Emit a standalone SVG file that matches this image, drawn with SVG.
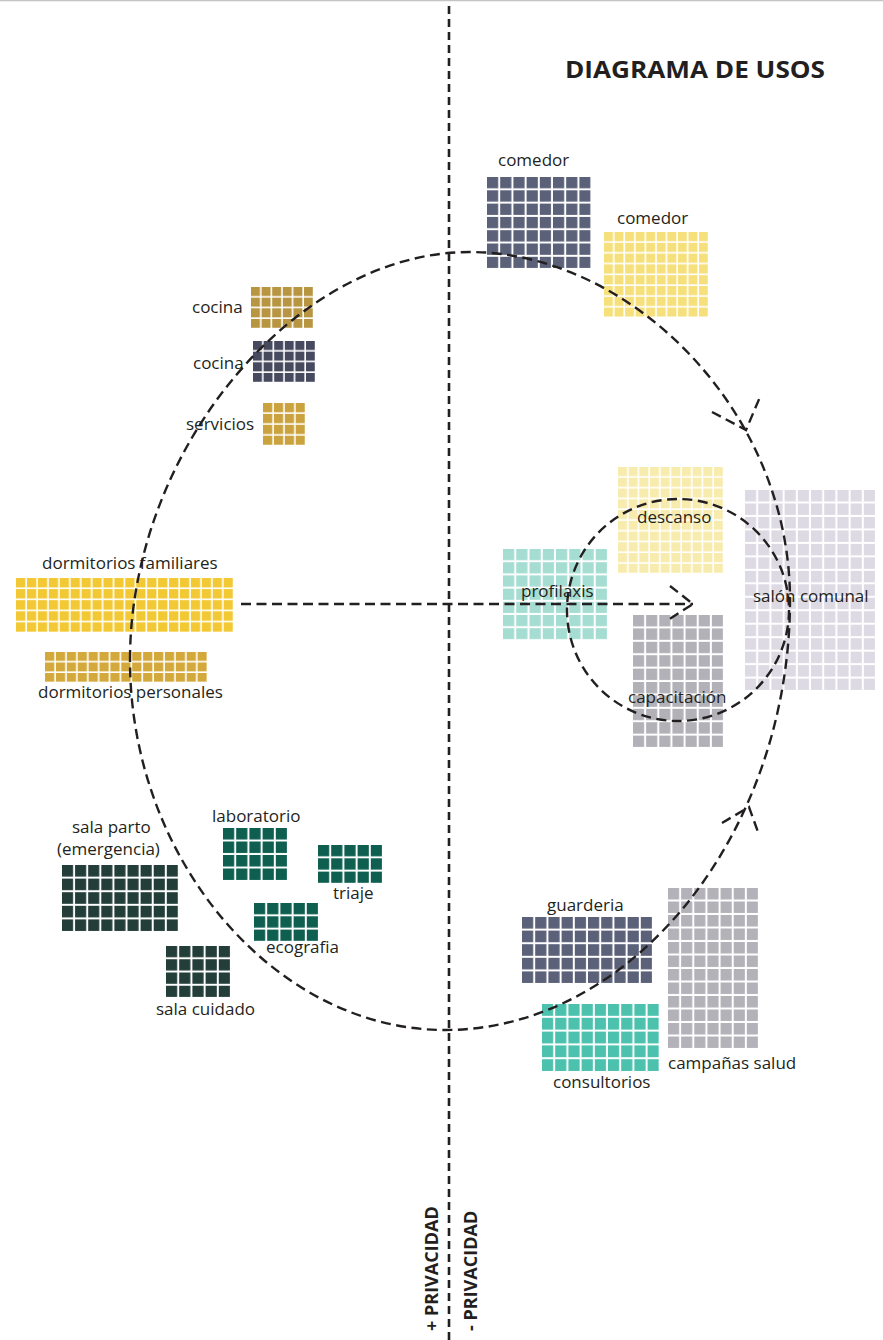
<svg xmlns="http://www.w3.org/2000/svg" width="883" height="1340" viewBox="0 0 883 1340">
<style>
.lbl{font-family:"Open Sans","Noto Sans",sans-serif;font-size:17px;fill:#231f20}
.ttl{font-family:"Open Sans","Noto Sans",sans-serif;font-size:24px;font-weight:700;fill:#231f20}
.priv{font-family:"Open Sans","Noto Sans",sans-serif;font-size:18px;font-weight:700;fill:#231f20}
.dash{fill:none;stroke:#231f20;stroke-width:2.4;stroke-dasharray:10 5.5}
.vline{fill:none;stroke:#231f20;stroke-width:2.6;stroke-dasharray:8 5}
</style>
<defs>
<pattern id="p1" patternUnits="userSpaceOnUse" x="487" y="177" width="13.2" height="13.3"><rect width="11.2" height="11.3" fill="#5b6179"/></pattern>
<pattern id="p2" patternUnits="userSpaceOnUse" x="604" y="232" width="10.56" height="10.8"><rect width="8.96" height="9.2" fill="#f5e07c"/></pattern>
<pattern id="p3" patternUnits="userSpaceOnUse" x="251" y="287" width="10.6" height="10.65"><rect width="9" height="9.05" fill="#b89540"/></pattern>
<pattern id="p4" patternUnits="userSpaceOnUse" x="253" y="341" width="10.6" height="10.65"><rect width="9" height="9.05" fill="#474a5f"/></pattern>
<pattern id="p5" patternUnits="userSpaceOnUse" x="263" y="403" width="10.9" height="10.9"><rect width="9.3" height="9.3" fill="#caa33f"/></pattern>
<pattern id="p6" patternUnits="userSpaceOnUse" x="16" y="578" width="10.93" height="11.1"><rect width="9.33" height="9.5" fill="#f2c935"/></pattern>
<pattern id="p7" patternUnits="userSpaceOnUse" x="45" y="652" width="10.9" height="10.5"><rect width="9.3" height="8.9" fill="#d4a93c"/></pattern>
<pattern id="p8" patternUnits="userSpaceOnUse" x="503" y="549" width="13.25" height="13.2"><rect width="11.25" height="11.2" fill="#a6ddd2"/></pattern>
<pattern id="p9" patternUnits="userSpaceOnUse" x="618" y="467" width="10.66" height="10.76"><rect width="9.06" height="9.16" fill="#f8ebae"/></pattern>
<pattern id="p10" patternUnits="userSpaceOnUse" x="633" y="615" width="13.14" height="13.4"><rect width="11.14" height="11.4" fill="#b3b1b8"/></pattern>
<pattern id="p11" patternUnits="userSpaceOnUse" x="745" y="490" width="13.2" height="13.47"><rect width="11.2" height="11.47" fill="#dedae4"/></pattern>
<pattern id="p12" patternUnits="userSpaceOnUse" x="223" y="828" width="13.2" height="13.5"><rect width="11.2" height="11.5" fill="#0e5f50"/></pattern>
<pattern id="p13" patternUnits="userSpaceOnUse" x="62" y="865" width="13.1" height="13.6"><rect width="11.1" height="11.6" fill="#233e38"/></pattern>
<pattern id="p14" patternUnits="userSpaceOnUse" x="318" y="845" width="13.2" height="13.3"><rect width="11.2" height="11.3" fill="#0e5f50"/></pattern>
<pattern id="p15" patternUnits="userSpaceOnUse" x="254" y="903" width="13.2" height="13.3"><rect width="11.2" height="11.3" fill="#0e5f50"/></pattern>
<pattern id="p16" patternUnits="userSpaceOnUse" x="166" y="946" width="13.2" height="13.25"><rect width="11.2" height="11.25" fill="#233e38"/></pattern>
<pattern id="p17" patternUnits="userSpaceOnUse" x="522" y="917" width="13.2" height="13.6"><rect width="11.2" height="11.6" fill="#5b6179"/></pattern>
<pattern id="p18" patternUnits="userSpaceOnUse" x="668" y="888" width="13.14" height="13.5"><rect width="11.14" height="11.5" fill="#b4b2b9"/></pattern>
<pattern id="p19" patternUnits="userSpaceOnUse" x="542" y="1004" width="13.2" height="13.8"><rect width="11.2" height="11.8" fill="#4cc2ae"/></pattern>
</defs>
<rect width="883" height="1340" fill="#ffffff"/>
<line x1="0" y1="0.6" x2="883" y2="0.6" stroke="#c4c4c4" stroke-width="1.5"/>
<g id="title"><text class="ttl" x="565" y="78" textLength="260" lengthAdjust="spacingAndGlyphs">DIAGRAMA DE USOS</text></g>
<g id="comedor-1"><rect x="487" y="177" width="103.6" height="91.1" fill="url(#p1)"/><text class="lbl" x="498" y="166">comedor</text></g>
<g id="comedor-2"><rect x="604" y="232" width="104" height="84.8" fill="url(#p2)"/><text class="lbl" x="617" y="224">comedor</text></g>
<g id="cocina-1"><rect x="251" y="287" width="62" height="41" fill="url(#p3)"/><text class="lbl" x="192" y="313">cocina</text></g>
<g id="cocina-2"><rect x="253" y="341" width="62" height="41" fill="url(#p4)"/><text class="lbl" x="193" y="369">cocina</text></g>
<g id="servicios"><rect x="263" y="403" width="42" height="42" fill="url(#p5)"/><text class="lbl" x="186" y="430">servicios</text></g>
<g id="dormitorios-familiares"><rect x="16" y="578" width="217" height="53.9" fill="url(#p6)"/><text class="lbl" x="42" y="569">dormitorios familiares</text></g>
<g id="dormitorios-personales"><rect x="45" y="652" width="161.9" height="29.9" fill="url(#p7)"/><text class="lbl" x="38" y="698">dormitorios personales</text></g>
<g id="profilaxis"><rect x="503" y="549" width="104" height="90.4" fill="url(#p8)"/><text class="lbl" x="521" y="597">profilaxis</text></g>
<g id="descanso"><rect x="618" y="467" width="105" height="106" fill="url(#p9)"/><text class="lbl" x="637" y="523">descanso</text></g>
<g id="capacitacion"><rect x="633" y="615" width="90" height="132" fill="url(#p10)"/><text class="lbl" x="628" y="703">capacitación</text></g>
<g id="salon-comunal"><rect x="745" y="490" width="130" height="200" fill="url(#p11)"/><text class="lbl" x="753" y="602">salón comunal</text></g>
<g id="laboratorio"><rect x="223" y="828" width="64" height="52" fill="url(#p12)"/><text class="lbl" x="212" y="822">laboratorio</text></g>
<g id="sala-parto"><rect x="62" y="865" width="115.9" height="66" fill="url(#p13)"/><text class="lbl" x="72" y="833">sala parto</text><text class="lbl" x="57" y="855">(emergencia)</text></g>
<g id="triaje"><rect x="318" y="845" width="64" height="37.9" fill="url(#p14)"/><text class="lbl" x="333" y="899">triaje</text></g>
<g id="ecografia"><rect x="254" y="903" width="64" height="37.9" fill="url(#p15)"/><text class="lbl" x="266" y="953">ecografia</text></g>
<g id="sala-cuidado"><rect x="166" y="946" width="64" height="51" fill="url(#p16)"/><text class="lbl" x="156" y="1015">sala cuidado</text></g>
<g id="guarderia"><rect x="522" y="917" width="130" height="66" fill="url(#p17)"/><text class="lbl" x="547" y="911">guarderia</text></g>
<g id="campanas-salud"><rect x="668" y="888" width="90" height="160" fill="url(#p18)"/><text class="lbl" x="668" y="1069">campañas salud</text></g>
<g id="consultorios"><rect x="542" y="1004" width="116.8" height="67" fill="url(#p19)"/><text class="lbl" x="553" y="1088">consultorios</text></g>
<g id="connectors">
<line class="vline" x1="449" y1="6" x2="449" y2="1340"/>
<path class="dash" d="M130,660 C130,450 295,252 470,252 C630,252 790,410 790,600 C790,830 635,1030 445,1030 C275,1030 130,860 130,660 Z"/>
<circle class="dash" cx="678" cy="610" r="111"/>
<path class="dash" d="M241,604 H693"/>
<path class="dash" d="M670,586 L693,604 L668,620"/>
<path class="dash" d="M712,412 L746,430 L760,397"/>
<path class="dash" d="M722,823 L749,807 L758,832"/>
</g>
<g id="privacy-labels">
<text class="priv" transform="translate(438,1331) rotate(-90)">+ PRIVACIDAD</text>
<text class="priv" transform="translate(477,1331) rotate(-90)">- PRIVACIDAD</text>
</g>
</svg>
